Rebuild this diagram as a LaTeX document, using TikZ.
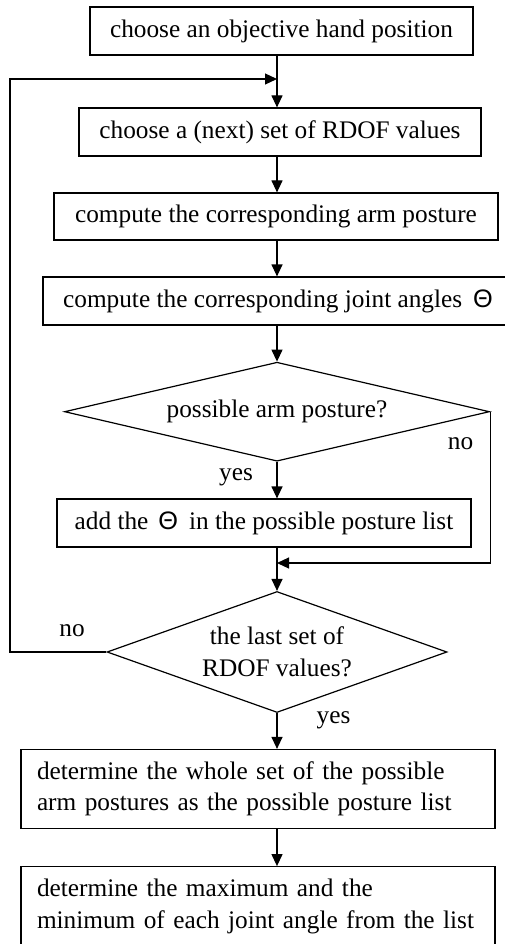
\documentclass[tikz,border=0pt]{standalone}
\usepackage{fontspec}
\setmainfont{Liberation Serif}
\newfontfamily\sansTh{Liberation Sans}
\usetikzlibrary{arrows.meta,shapes.geometric}
\newcommand{\Th}{{\sansTh Θ}}
\begin{document}
\begin{tikzpicture}[x=1pt,y=-1pt,
  every node/.style={font=\fontsize{25.3}{31.5}\selectfont},
  line width=1.2pt,
  boxn/.style={draw, rectangle, inner sep=0pt, minimum height=48pt},
  dia/.style={draw, diamond, inner sep=0pt},
  arr/.style={-{Triangle[length=12pt,width=11pt]}},
  lbl/.style={inner sep=0pt}]
\useasboundingbox (0,0) rectangle (505,944);
\coordinate (sp) at (277,0);
\coordinate (lft) at (10,0);
\coordinate (j1) at (277,79);
\coordinate (j2) at (277,563);

\node[boxn, minimum width=383pt] (b1) at (281.5,31) {choose an objective hand position};
\node[boxn, minimum width=402pt] (b2) at (280,132) {choose a (next) set of RDOF values};
\node[boxn, minimum width=444pt, minimum height=47pt] (b3) at (276,216.5) {compute the corresponding arm posture};
\node[boxn, minimum width=470pt] (b4) at (278,301) {compute the corresponding joint angles\hspace{11pt}\Th};
\node[dia, minimum width=425pt, minimum height=99pt, aspect=4.29] (d1) at (277,411.7) {possible arm posture?};
\node[boxn, minimum width=414pt] (b5) at (264,523) {add the\hspace{10pt}\Th\hspace{11pt}in the possible posture list};
\node[dia, minimum width=340pt, minimum height=121pt, aspect=2.81, align=center] (d2) at (277,652) {the last set of\\RDOF values?};
\node[boxn, text width=442pt, inner xsep=16pt, minimum height=79pt, align=left] (b6) at (258,789) {determine the whole set of the possible\\arm postures as the possible posture list};
\node[boxn, text width=442pt, inner xsep=16pt, minimum height=79.6pt, align=left] (b7) at (258,906.5) {determine the maximum and the\\minimum of each joint angle from the list};

\node[lbl] (no1) at (460.5,444) {no};
\node[lbl] (yes1) at (236,477) {yes};
\node[lbl] (no2) at (72,631) {no};
\node[lbl] (yes2) at (333.5,720.5) {yes};

\draw[arr] (b1.south -| sp) -- (b2.north -| sp);
\draw[arr] (b2.south -| sp) -- (b3.north -| sp);
\draw[arr] (b3.south -| sp) -- (b4.north -| sp);
\draw[arr] (b4.south -| sp) -- (d1.north);
\draw[arr] (d1.south) -- (b5.north -| sp);
\draw[arr] (b5.south -| sp) -- (d2.north);
\draw[arr] (d2.south) -- (b6.north -| sp);
\draw[arr] (b6.south -| sp) -- (b7.north -| sp);
\draw[arr] (d2.west) -- (d2.west -| lft) |- (j1);
\draw[arr] (d1.east) |- (j2);
\end{tikzpicture}
\end{document}
